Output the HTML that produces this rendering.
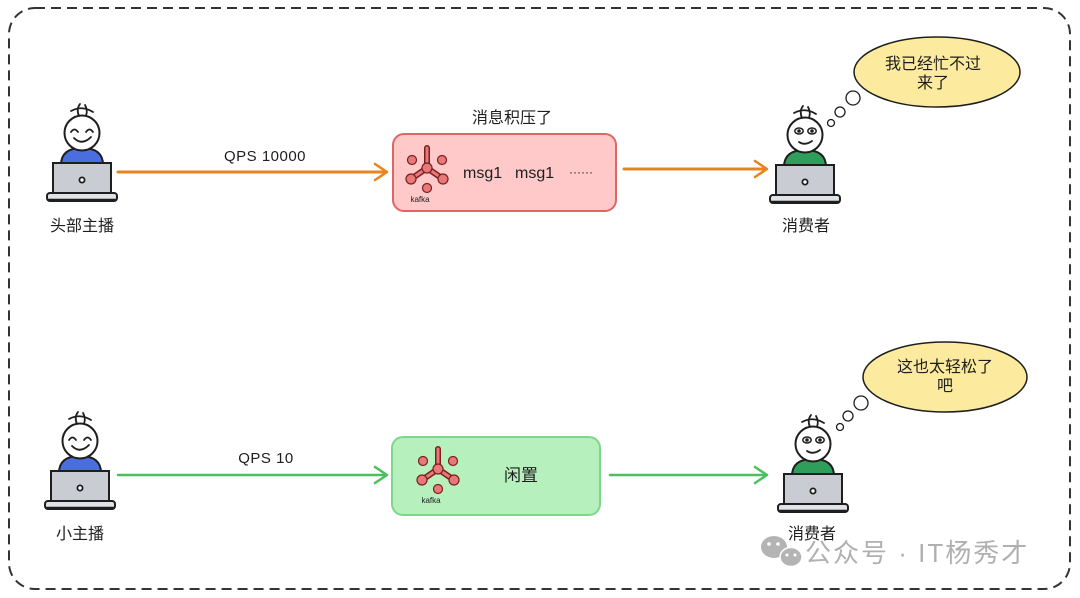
<!DOCTYPE html>
<html><head><meta charset="utf-8"><style>
html,body{margin:0;padding:0;background:#fff;}
svg{display:block;}
text{font-family:"Liberation Sans","Noto Sans CJK SC",sans-serif;}
</style></head><body>
<svg width="1080" height="598" viewBox="0 0 1080 598" xmlns="http://www.w3.org/2000/svg">
<defs>
<g id="kafka">
  <line x1="0" y1="0" x2="0" y2="-20" stroke="#7a1f1f" stroke-width="6" stroke-linecap="round"/>
  <line x1="0" y1="0" x2="-16" y2="11" stroke="#7a1f1f" stroke-width="6" stroke-linecap="round"/>
  <line x1="0" y1="0" x2="16" y2="11" stroke="#7a1f1f" stroke-width="6" stroke-linecap="round"/>
  <line x1="0" y1="0" x2="0" y2="-20" stroke="#e8787a" stroke-width="3" stroke-linecap="round"/>
  <line x1="0" y1="0" x2="-16" y2="11" stroke="#e8787a" stroke-width="3" stroke-linecap="round"/>
  <line x1="0" y1="0" x2="16" y2="11" stroke="#e8787a" stroke-width="3" stroke-linecap="round"/>
  <circle cx="0" cy="0" r="5" fill="#e8787a" stroke="#7a1f1f" stroke-width="1.2"/>
  <circle cx="-16" cy="11" r="5" fill="#e8787a" stroke="#7a1f1f" stroke-width="1.2"/>
  <circle cx="16" cy="11" r="5" fill="#e8787a" stroke="#7a1f1f" stroke-width="1.2"/>
  <circle cx="-15" cy="-8" r="4.5" fill="#e8787a" stroke="#7a1f1f" stroke-width="1.2"/>
  <circle cx="15" cy="-8" r="4.5" fill="#e8787a" stroke="#7a1f1f" stroke-width="1.2"/>
  <circle cx="0" cy="20" r="4.5" fill="#e8787a" stroke="#7a1f1f" stroke-width="1.2"/>
  <text x="-7" y="34" font-size="8" fill="#222" text-anchor="middle">kafka</text>
</g>
<g id="laptop">
  <rect x="-29" y="30" width="58" height="31" fill="#c9ccd2" stroke="#1e1e1e" stroke-width="2"/>
  <circle cx="0" cy="47" r="2.6" fill="#fff" stroke="#1e1e1e" stroke-width="1.8"/>
  <rect x="-35" y="60" width="70" height="8" rx="3" fill="#dfe2e6" stroke="#1e1e1e" stroke-width="2"/>
  <line x1="-34" y1="67" x2="34" y2="67" stroke="#1e1e1e" stroke-width="2.5"/>
</g>
<g id="hair">
  <path d="M-11,-22 Q0,-28 11,-21 M-3,-17 Q-6,-24 -2,-29 M4,-17 Q6,-23 3,-28" fill="none" stroke="#1e1e1e" stroke-width="1.8" stroke-linecap="round"/>
</g>
</defs>

<!-- dashed frame -->
<rect x="9" y="8" width="1061" height="581" rx="26" fill="none" stroke="#333" stroke-width="2" stroke-dasharray="10 6"/>

<!-- ===== TOP ROW ===== -->
<g transform="translate(82,133)">
  <path d="M-21,32 Q-21,15 0,15 Q21,15 21,32 Z" fill="#4a6ee0" stroke="#1e1e1e" stroke-width="2"/>
  <circle cx="0" cy="0" r="17.5" fill="#fff" stroke="#1e1e1e" stroke-width="2"/>
  <use href="#hair"/>
  <path d="M-11,-1 Q-7.5,-6 -4,-1 M4,-1 Q7.5,-6 11,-1" fill="none" stroke="#1e1e1e" stroke-width="1.8" stroke-linecap="round"/>
  <path d="M-8,5 Q0,13 9,4" fill="none" stroke="#1e1e1e" stroke-width="1.8" stroke-linecap="round"/>
  <use href="#laptop"/>
</g>
<text x="82" y="231" font-size="16" fill="#1e1e1e" text-anchor="middle">头部主播</text>

<!-- arrow 1 -->
<line x1="118" y1="172" x2="386" y2="172" stroke="#e8841e" stroke-width="3" stroke-linecap="round"/>
<path d="M375,164 L387,172 L375,180" fill="none" stroke="#e8841e" stroke-width="2.5" stroke-linecap="round" stroke-linejoin="round"/>
<text x="265" y="161" font-size="15" fill="#1e1e1e" text-anchor="middle" letter-spacing="0.5">QPS 10000</text>

<!-- red box -->
<text x="512" y="123" font-size="16" fill="#1e1e1e" text-anchor="middle">消息积压了</text>
<rect x="393" y="134" width="223" height="77" rx="11" fill="#ffc9c9" stroke="#e06666" stroke-width="2"/>
<use href="#kafka" transform="translate(427,168)"/>
<text x="463" y="178" font-size="16" fill="#1e1e1e">msg1</text>
<text x="515" y="178" font-size="16" fill="#1e1e1e">msg1</text>
<text x="569" y="176" font-size="12" fill="#1e1e1e">······</text>

<!-- arrow 2 -->
<line x1="624" y1="169" x2="766" y2="169" stroke="#e8841e" stroke-width="3" stroke-linecap="round"/>
<path d="M755,161 L767,169 L755,177" fill="none" stroke="#e8841e" stroke-width="2.5" stroke-linecap="round" stroke-linejoin="round"/>

<!-- right consumer -->
<g transform="translate(805,135)">
  <path d="M-21,32 Q-21,15 0,15 Q21,15 21,32 Z" fill="#2f9e5a" stroke="#1e1e1e" stroke-width="2"/>
  <circle cx="0" cy="0" r="17.5" fill="#fff" stroke="#1e1e1e" stroke-width="2"/>
  <use href="#hair"/>
  <ellipse cx="-6" cy="-4" rx="4.2" ry="3" fill="#fff" stroke="#1e1e1e" stroke-width="1.5"/>
  <ellipse cx="7" cy="-4" rx="4.2" ry="3" fill="#fff" stroke="#1e1e1e" stroke-width="1.5"/>
  <circle cx="-6" cy="-4" r="1.8" fill="#1e1e1e"/>
  <circle cx="7" cy="-4" r="1.8" fill="#1e1e1e"/>
  <path d="M-6,7 Q0,11 7,6" fill="none" stroke="#1e1e1e" stroke-width="1.8" stroke-linecap="round"/>
  <use href="#laptop"/>
</g>
<text x="806" y="231" font-size="16" fill="#1e1e1e" text-anchor="middle">消费者</text>

<!-- bubble 1 -->
<ellipse cx="937" cy="72" rx="83" ry="35" fill="#fcea9e" stroke="#1e1e1e" stroke-width="1.5"/>
<circle cx="853" cy="98" r="7" fill="#fff" stroke="#1e1e1e" stroke-width="1.3"/>
<circle cx="840" cy="112" r="5" fill="#fff" stroke="#1e1e1e" stroke-width="1.3"/>
<circle cx="831" cy="123" r="3.5" fill="#fff" stroke="#1e1e1e" stroke-width="1.3"/>
<text x="933" y="69" font-size="16" fill="#1e1e1e" text-anchor="middle">我已经忙不过</text>
<text x="933" y="88" font-size="16" fill="#1e1e1e" text-anchor="middle">来了</text>

<!-- ===== BOTTOM ROW ===== -->
<g transform="translate(80,441)">
  <path d="M-21,32 Q-21,15 0,15 Q21,15 21,32 Z" fill="#4a6ee0" stroke="#1e1e1e" stroke-width="2"/>
  <circle cx="0" cy="0" r="17.5" fill="#fff" stroke="#1e1e1e" stroke-width="2"/>
  <use href="#hair"/>
  <path d="M-11,-1 Q-7.5,-6 -4,-1 M4,-1 Q7.5,-6 11,-1" fill="none" stroke="#1e1e1e" stroke-width="1.8" stroke-linecap="round"/>
  <path d="M-8,5 Q0,13 9,4" fill="none" stroke="#1e1e1e" stroke-width="1.8" stroke-linecap="round"/>
  <use href="#laptop"/>
</g>
<text x="80" y="539" font-size="16" fill="#1e1e1e" text-anchor="middle">小主播</text>

<!-- arrow 3 -->
<line x1="118" y1="475" x2="386" y2="475" stroke="#4cc05e" stroke-width="2.5" stroke-linecap="round"/>
<path d="M375,467 L387,475 L375,483" fill="none" stroke="#4cc05e" stroke-width="2.5" stroke-linecap="round" stroke-linejoin="round"/>
<text x="266" y="463" font-size="15" fill="#1e1e1e" text-anchor="middle" letter-spacing="0.5">QPS 10</text>

<!-- green box -->
<rect x="392" y="437" width="208" height="78" rx="11" fill="#b6f0bd" stroke="#7ed68a" stroke-width="2"/>
<use href="#kafka" transform="translate(438,469)"/>
<text x="521" y="481" font-size="17" fill="#1e1e1e" text-anchor="middle">闲置</text>

<!-- arrow 4 -->
<line x1="610" y1="475" x2="766" y2="475" stroke="#4cc05e" stroke-width="2.5" stroke-linecap="round"/>
<path d="M755,467 L767,475 L755,483" fill="none" stroke="#4cc05e" stroke-width="2.5" stroke-linecap="round" stroke-linejoin="round"/>

<!-- right consumer bottom -->
<g transform="translate(813,444)">
  <path d="M-21,32 Q-21,15 0,15 Q21,15 21,32 Z" fill="#2f9e5a" stroke="#1e1e1e" stroke-width="2"/>
  <circle cx="0" cy="0" r="17.5" fill="#fff" stroke="#1e1e1e" stroke-width="2"/>
  <use href="#hair"/>
  <ellipse cx="-6" cy="-4" rx="4.2" ry="3" fill="#fff" stroke="#1e1e1e" stroke-width="1.5"/>
  <ellipse cx="7" cy="-4" rx="4.2" ry="3" fill="#fff" stroke="#1e1e1e" stroke-width="1.5"/>
  <circle cx="-6" cy="-4" r="1.8" fill="#1e1e1e"/>
  <circle cx="7" cy="-4" r="1.8" fill="#1e1e1e"/>
  <path d="M-6,7 Q0,11 7,6" fill="none" stroke="#1e1e1e" stroke-width="1.8" stroke-linecap="round"/>
  <use href="#laptop"/>
</g>
<text x="812" y="539" font-size="16" fill="#1e1e1e" text-anchor="middle">消费者</text>

<!-- bubble 2 -->
<ellipse cx="945" cy="377" rx="82" ry="35" fill="#fcea9e" stroke="#1e1e1e" stroke-width="1.5"/>
<circle cx="861" cy="403" r="7" fill="#fff" stroke="#1e1e1e" stroke-width="1.3"/>
<circle cx="848" cy="416" r="5" fill="#fff" stroke="#1e1e1e" stroke-width="1.3"/>
<circle cx="840" cy="427" r="3.5" fill="#fff" stroke="#1e1e1e" stroke-width="1.3"/>
<text x="945" y="372" font-size="16" fill="#1e1e1e" text-anchor="middle">这也太轻松了</text>
<text x="945" y="391" font-size="16" fill="#1e1e1e" text-anchor="middle">吧</text>

<!-- watermark -->
<g fill="#b4b4b4">
  <ellipse cx="774" cy="547" rx="13" ry="11"/>
  <ellipse cx="791" cy="557" rx="11" ry="9.5" stroke="#fff" stroke-width="1.5"/>
</g>
<g fill="#fff">
  <circle cx="769" cy="544" r="1.8"/><circle cx="778" cy="544" r="1.8"/>
  <circle cx="787" cy="555" r="1.5"/><circle cx="795" cy="555" r="1.5"/>
</g>
<text x="805" y="562" font-size="26" fill="#b0b0b0" letter-spacing="2">公众号 · IT杨秀才</text>
</svg>
</body></html>
